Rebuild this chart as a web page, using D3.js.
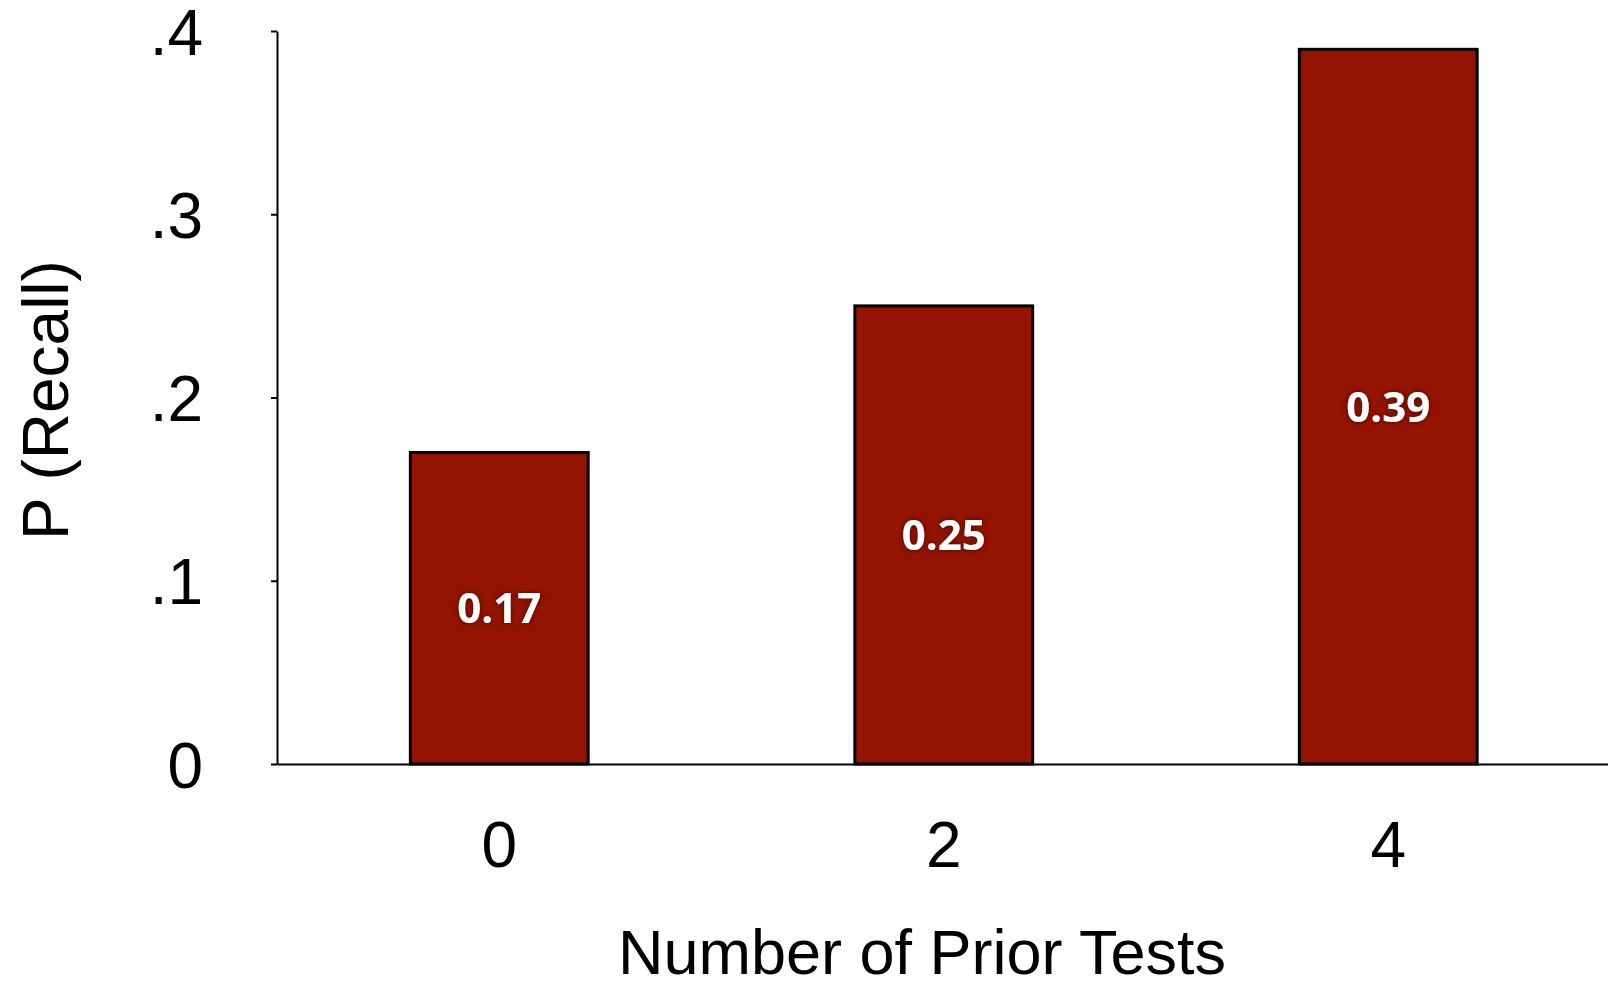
<!DOCTYPE html>
<html>
<head>
<meta charset="utf-8">
<script src="https://cdn.jsdelivr.net/npm/d3@7"></script>
<style>
  html, body { margin: 0; padding: 0; background: #fff; }
  svg { display: block; }
  text { font-family: "Liberation Sans", Arial, sans-serif; fill: #000; }
</style>
</head>
<body>
<svg id="chart" width="1608" height="985"></svg>
<script>
// Recall probability by number of prior tests
const categories = ["0", "2", "4"];
const recall = [0.17, 0.25, 0.39];
const valueLabels = ["0.17", "0.25", "0.39"];
const yTickValues = [0, 0.1, 0.2, 0.3, 0.4];
const yTickLabels = ["0", ".1", ".2", ".3", ".4"];

const svg = d3.select("#chart");
const plot = { left: 277, right: 1610.5, top: 31, bottom: 764 };

const x = d3.scaleBand()
  .domain(categories)
  .range([plot.left, plot.right])
  .paddingInner(0.6)
  .paddingOuter(0.3);

const y = d3.scaleLinear()
  .domain([0, 0.4])
  .range([plot.bottom, plot.top]);

// soft dark glow behind the value labels
const defs = svg.append("defs");
const f = defs.append("filter").attr("id", "glow")
  .attr("x", "-30%").attr("y", "-30%").attr("width", "160%").attr("height", "160%");
f.append("feDropShadow").attr("dx", 0).attr("dy", 0)
  .attr("stdDeviation", 2.5).attr("flood-color", "#3a0000").attr("flood-opacity", 0.9);

// bars
svg.append("g").selectAll("rect")
  .data(recall)
  .join("rect")
  .attr("x", (d, i) => x(categories[i]))
  .attr("y", d => y(d))
  .attr("width", x.bandwidth())
  .attr("height", d => y(0) - y(d))
  .attr("fill", "#931400")
  .attr("stroke", "#000")
  .attr("stroke-width", 3);

// value labels centred in each bar
svg.append("g").selectAll("text")
  .data(recall)
  .join("text")
  .attr("x", (d, i) => x(categories[i]) + x.bandwidth() / 2)
  .attr("y", d => (y(d) + y(0)) / 2)
  .attr("dy", "0.36em")
  .attr("text-anchor", "middle")
  .style("font-family", "'Open Sans', sans-serif")
  .style("font-weight", 700)
  .style("font-size", "42px")
  .style("fill", "#fff")
  .attr("filter", "url(#glow)")
  .text((d, i) => valueLabels[i]);

// y axis
const yAxis = d3.axisLeft(y)
  .tickValues(yTickValues)
  .tickFormat((d, i) => yTickLabels[i])
  .tickSize(6)
  .tickSizeOuter(0)
  .tickPadding(68);
const gy = svg.append("g")
  .attr("transform", `translate(${plot.left},0)`)
  .call(yAxis);
gy.select(".domain").attr("stroke", "#000").attr("stroke-width", 2);
gy.selectAll(".tick line").attr("stroke", "#000").attr("stroke-width", 2);
gy.selectAll(".tick text")
  .style("font-family", "'Liberation Sans', Arial, sans-serif")
  .style("font-size", "64px")
  .attr("dy", "0.36em")
  .attr("fill", "#000");

// x axis
const xAxis = d3.axisBottom(x)
  .tickSize(0)
  .tickSizeOuter(0)
  .tickPadding(58);
const gx = svg.append("g")
  .attr("transform", `translate(0,${plot.bottom})`)
  .call(xAxis);
gx.select(".domain").attr("stroke", "#000").attr("stroke-width", 2);
gx.selectAll(".tick text")
  .style("font-family", "'Liberation Sans', Arial, sans-serif")
  .style("font-size", "64px")
  .attr("fill", "#000");

// axis titles
svg.append("text")
  .attr("x", 922)
  .attr("y", 974)
  .attr("text-anchor", "middle")
  .style("font-size", "63px")
  .text("Number of Prior Tests");

svg.append("text")
  .attr("transform", "translate(68,400) rotate(-90)")
  .attr("text-anchor", "middle")
  .style("font-size", "64px")
  .text("P (Recall)");
</script>
</body>
</html>
